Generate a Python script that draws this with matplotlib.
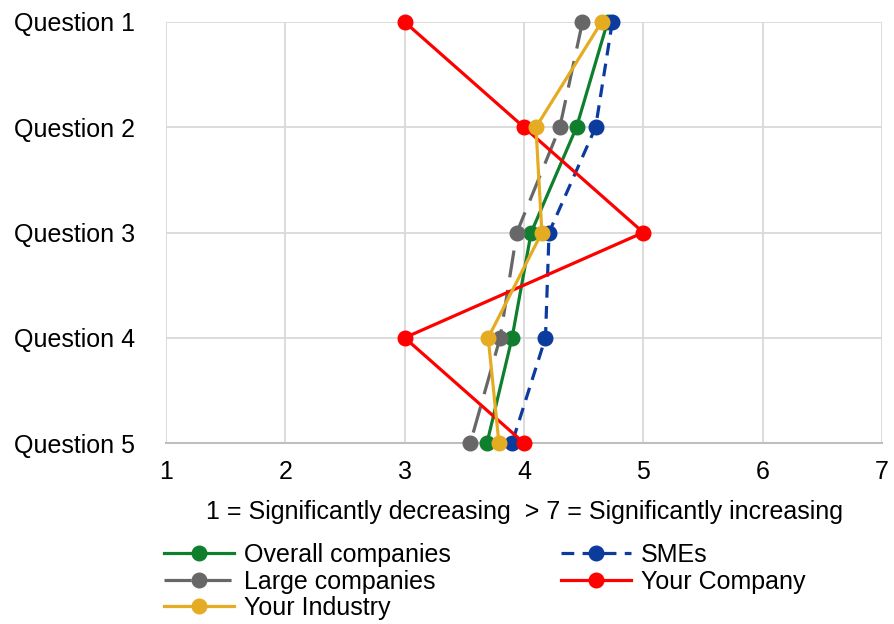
import matplotlib.pyplot as plt

plt.rcParams['font.family'] = ['Liberation Sans', 'DejaVu Sans']

questions = ['Question 1', 'Question 2', 'Question 3', 'Question 4', 'Question 5']
overall = [4.70, 4.44, 4.06, 3.90, 3.69]
smes = [4.74, 4.60, 4.21, 4.18, 3.90]
large = [4.49, 4.30, 3.94, 3.80, 3.55]
your_company = [3.0, 4.0, 5.0, 3.0, 4.0]
your_industry = [4.65, 4.10, 4.15, 3.70, 3.79]

pos = list(range(1, len(questions) + 1))

fig = plt.figure(figsize=(8.94, 6.24), dpi=100)
ax = fig.add_axes([166 / 894, 1 - 443 / 624, 716 / 894, 421 / 624])

lw = 2.3
ms = 10.5
h_overall, = ax.plot(overall, pos, color='#0f7f2e', lw=lw, marker='o', ms=ms,
                     clip_on=False, label='Overall companies', zorder=3)
h_smes, = ax.plot(smes, pos, color='#0c3b9e', lw=lw, marker='o', ms=ms,
                  dashes=(4, 2.6), clip_on=False, label='SMEs', zorder=3)
h_large, = ax.plot(large, pos, color='#676767', lw=lw, marker='o', ms=ms,
                   dashes=(8.5, 4), clip_on=False, label='Large companies', zorder=3)
h_comp, = ax.plot(your_company, pos, color='#ff0000', lw=lw, marker='o', ms=ms,
                  clip_on=False, label='Your Company', zorder=3)
h_ind, = ax.plot(your_industry, pos, color='#e5ac23', lw=lw, marker='o', ms=ms,
                 clip_on=False, label='Your Industry', zorder=3)

ax.set_xlim(1, 7)
ax.set_ylim(5, 1)
ax.set_xticks(range(1, 8))
ax.set_yticks(pos)
ax.set_yticklabels(questions)
ax.grid(True, color='#d9d9d9', lw=1.3)
ax.set_axisbelow(True)
for side in ['top', 'right', 'left']:
    ax.spines[side].set_visible(False)
ax.spines['bottom'].set_color('#bfbfbf')
ax.spines['bottom'].set_linewidth(1.5)
ax.tick_params(length=0, labelsize=18)
ax.tick_params(axis='x', pad=12)
ax.tick_params(axis='y', pad=22)
ax.set_xlabel('1 = Significantly decreasing  > 7 = Significantly increasing',
              fontsize=18, labelpad=12)

# legend rows: Overall/SMEs, Large/Your Company, Your Industry
handles = [h_overall, h_large, h_ind, h_smes, h_comp]
fig.legend(handles=handles, labels=[h.get_label() for h in handles],
           loc='upper left', bbox_to_anchor=(164 / 894, 1 - 543 / 624),
           ncol=2, frameon=False, fontsize=18, handlelength=2.8,
           handletextpad=0.4, labelspacing=0.1, columnspacing=4.4,
           borderaxespad=0, borderpad=0)

fig.savefig('out.png', dpi=100)
